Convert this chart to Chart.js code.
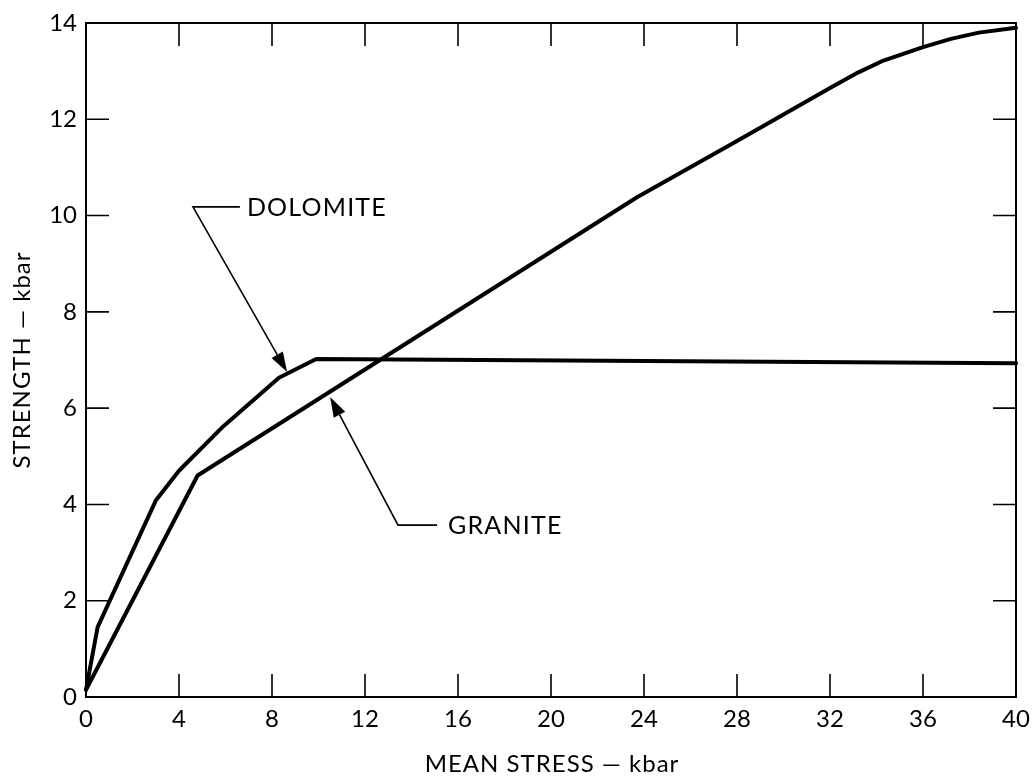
<!DOCTYPE html>
<html>
<head>
<meta charset="utf-8">
<script src="https://cdn.jsdelivr.net/npm/chart.js@4/dist/chart.umd.min.js"></script>
<style>
  html, body { margin: 0; padding: 0; background: #fff; }
  #wrap { width: 1032px; height: 783px; }
</style>
</head>
<body>
<div id="wrap"><canvas id="c" width="1032" height="783"></canvas></div>
<script>
// ---- data ----
const xTickValues = [0, 4, 8, 12, 16, 20, 24, 28, 32, 36, 40];
const yTickValues = [0, 2, 4, 6, 8, 10, 12, 14];

const dolomiteX = [0, 0.5, 3.0, 4.0, 5.9, 8.3, 9.9, 40];
const dolomiteY = [0.15, 1.45, 4.08, 4.7, 5.62, 6.63, 7.02, 6.93];

const graniteX = [0, 4.8, 23.7, 28, 32, 33.2, 34.3, 36, 37.2, 38.4, 40];
const graniteY = [0.15, 4.6, 10.38, 11.55, 12.65, 12.97, 13.22, 13.5, 13.67, 13.8, 13.9];

const xTitle = 'MEAN STRESS — kbar';
const yTitle = 'STRENGTH — kbar';

// labels with leader arrows (data coordinates)
const labelNames = ['DOLOMITE', 'GRANITE'];
const labelTipX = [8.65, 10.5];
const labelTipY = [6.75, 6.23];
const labelCornerX = [4.6, 13.42];
const labelCornerY = [10.18, 3.57];
const labelLineEndX = [6.62, 15.1];
const labelTextX = [6.92, 15.57];

const FONT = 'Lato, "DejaVu Sans", sans-serif';

function pts(xs, ys) { return xs.map((x, i) => ({ x: x, y: ys[i] })); }

const framePlugin = {
  id: 'frame',
  afterDraw(chart) {
    const ctx = chart.ctx;
    const a = chart.chartArea;
    const xs = chart.scales.x, ys = chart.scales.y;
    ctx.save();
    ctx.strokeStyle = '#000';
    ctx.lineWidth = 2;
    ctx.strokeRect(a.left, a.top, a.right - a.left, a.bottom - a.top);
    const tl = 23;
    ctx.lineWidth = 1.6;
    ctx.beginPath();
    xTickValues.slice(1, -1).forEach(v => {
      const px = xs.getPixelForValue(v);
      ctx.moveTo(px, a.bottom); ctx.lineTo(px, a.bottom - tl);
      ctx.moveTo(px, a.top); ctx.lineTo(px, a.top + tl);
    });
    yTickValues.slice(1, -1).forEach(v => {
      const py = ys.getPixelForValue(v);
      ctx.moveTo(a.left, py); ctx.lineTo(a.left + tl, py);
      ctx.moveTo(a.right, py); ctx.lineTo(a.right - tl, py);
    });
    ctx.stroke();

    // annotations
    ctx.lineWidth = 1.6;
    ctx.fillStyle = '#000';
    labelNames.forEach((name, i) => {
      const tx = xs.getPixelForValue(labelTipX[i]);
      const ty = ys.getPixelForValue(labelTipY[i]);
      const cx = xs.getPixelForValue(labelCornerX[i]);
      const cy = ys.getPixelForValue(labelCornerY[i]);
      const ex = xs.getPixelForValue(labelLineEndX[i]);
      const lx = xs.getPixelForValue(labelTextX[i]);
      const ang = Math.atan2(ty - cy, tx - cx);
      const hl = 20, hw = 6.5;
      const bx = tx - hl * Math.cos(ang), by = ty - hl * Math.sin(ang);
      ctx.beginPath();
      ctx.moveTo(ex, cy); ctx.lineTo(cx, cy); ctx.lineTo(bx, by);
      ctx.stroke();
      ctx.beginPath();
      ctx.moveTo(tx, ty);
      ctx.lineTo(bx + hw * Math.sin(ang), by - hw * Math.cos(ang));
      ctx.lineTo(bx - hw * Math.sin(ang), by + hw * Math.cos(ang));
      ctx.closePath();
      ctx.fill();
      ctx.font = '25px ' + FONT;
      ctx.letterSpacing = '1.2px';
      ctx.textAlign = 'left';
      ctx.textBaseline = 'middle';
      ctx.fillText(name, lx, cy + 1);
    });

    // axis titles
    ctx.font = '24px ' + FONT;
    ctx.letterSpacing = '1px';
    ctx.textAlign = 'center';
    ctx.textBaseline = 'middle';
    ctx.fillText(xTitle, (a.left + a.right) / 2 + 1, 764);
    ctx.translate(22, (a.top + a.bottom) / 2);
    ctx.rotate(-Math.PI / 2);
    ctx.fillText(yTitle, 0, 0);
    ctx.restore();
  }
};

new Chart(document.getElementById('c'), {
  type: 'scatter',
  data: {
    datasets: [
      { label: 'Dolomite', data: pts(dolomiteX, dolomiteY), showLine: true,
        borderColor: '#000', borderWidth: 4, pointRadius: 0, tension: 0, clip: false,
        borderJoinStyle: 'round', borderCapStyle: 'round' },
      { label: 'Granite', data: pts(graniteX, graniteY), showLine: true,
        borderColor: '#000', borderWidth: 4, pointRadius: 0, tension: 0, clip: false,
        borderJoinStyle: 'round', borderCapStyle: 'round' }
    ]
  },
  options: {
    responsive: false,
    animation: false,
    devicePixelRatio: 1,
    layout: { padding: { left: 0, top: 23, right: 16, bottom: 0 } },
    plugins: { legend: { display: false }, tooltip: { enabled: false } },
    scales: {
      x: {
        type: 'linear', min: 0, max: 40,
        afterBuildTicks: s => { s.ticks = xTickValues.map(v => ({ value: v })); },
        afterFit: s => { s.height = 86; s.paddingLeft = 0; s.paddingRight = 0; },
        grid: { display: false, drawTicks: false },
        border: { display: false },
        ticks: { color: '#000', font: { family: FONT, size: 24 }, padding: 8, maxRotation: 0 }
      },
      y: {
        type: 'linear', min: 0, max: 14,
        afterBuildTicks: s => { s.ticks = yTickValues.map(v => ({ value: v })); },
        afterFit: s => { s.width = 86; s.paddingTop = 0; s.paddingBottom = 0; },
        grid: { display: false, drawTicks: false },
        border: { display: false },
        ticks: { color: '#000', font: { family: FONT, size: 24 }, padding: 9 }
      }
    }
  },
  plugins: [framePlugin]
});
</script>
</body>
</html>
